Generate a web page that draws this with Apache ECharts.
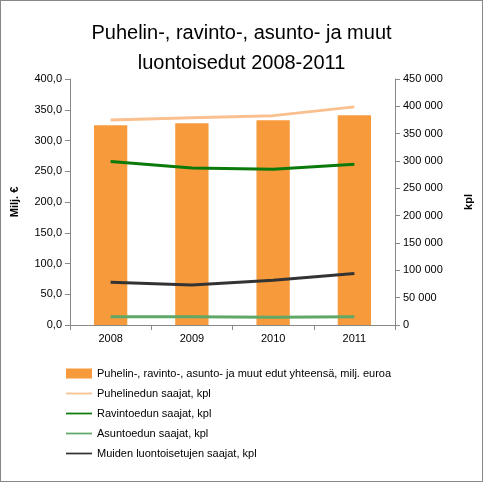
<!DOCTYPE html>
<html><head><meta charset="utf-8">
<script src="https://cdn.jsdelivr.net/npm/echarts@6/dist/echarts.min.js"></script>
<style>html,body{margin:0;padding:0;background:#fff}#c{width:483px;height:482px;box-sizing:border-box;border:1px solid #888}</style>
</head><body><div id="c"></div>
<script>
const categories = ['2008','2009','2010','2011'];
const edut = [325, 328, 333, 341];
const puhelin = [375000, 379000, 383000, 399000];
const ravinto = [299000, 287000, 285000, 294000];
const asunto = [15000, 15000, 14000, 15000];
const muut = [78000, 73000, 82000, 94000];
const names = ['Puhelin-, ravinto-, asunto- ja muut edut yhteensä, milj. euroa','Puhelinedun saajat, kpl','Ravintoedun saajat, kpl','Asuntoedun saajat, kpl','Muiden luontoisetujen saajat, kpl'];
const fmt = v => v.toFixed(1).replace('.', ',');
const fmtK = v => v === 0 ? '0' : String(v).replace(/\B(?=(\d{3})+(?!\d))/g, ' ');
const font = 'Liberation Sans, Arial, sans-serif';
const chart = echarts.init(document.getElementById('c'));
const line = (n, d, c) => ({name: n, type: 'line', yAxisIndex: 1, data: d, symbol: 'none', lineStyle: {color: c, width: 3}, itemStyle: {color: c}});
const lineIcon = 'path://M0,4L30,4L30,6L0,6Z';
chart.setOption({
  animation: false,
  textStyle: {fontFamily: font},
  title: {text: 'Puhelin-, ravinto-, asunto- ja muut\nluontoisedut 2008-2011', left: 'center', top: 12, textStyle: {fontSize: 20, fontWeight: 'normal', color: '#000', lineHeight: 30, fontFamily: font}},
  grid: {left: 68, right: 85, top: 78, bottom: 156},
  xAxis: {type: 'category', data: categories, axisTick: {show: true}, axisLine: {lineStyle: {color: '#888'}}, axisLabel: {color: '#000', fontSize: 11}},
  yAxis: [
    {type: 'value', min: 0, max: 400, interval: 50, name: 'Milj. €', nameLocation: 'middle', nameGap: 50, nameTextStyle: {fontWeight: 'bold', fontSize: 11, color: '#000'}, axisLine: {show: true, lineStyle: {color: '#888'}}, axisTick: {show: true}, splitLine: {show: false}, axisLabel: {formatter: fmt, color: '#000', fontSize: 11}},
    {type: 'value', min: 0, max: 450000, interval: 50000, name: 'kpl', nameLocation: 'middle', nameGap: 68, nameTextStyle: {fontWeight: 'bold', fontSize: 11, color: '#000'}, axisLine: {show: true, lineStyle: {color: '#888'}}, axisTick: {show: true}, splitLine: {show: false}, axisLabel: {formatter: fmtK, color: '#000', fontSize: 11}}
  ],
  legend: {orient: 'vertical', left: 60, top: 362, itemGap: 9, itemWidth: 26, itemHeight: 10, textStyle: {fontSize: 11, color: '#000'},
    data: [{name: names[0], icon: 'rect'}].concat(names.slice(1).map(n => ({name: n, icon: lineIcon})))},
  series: [
    {name: names[0], type: 'bar', data: edut, barWidth: '41%', itemStyle: {color: '#F79A3B'}},
    line(names[1], puhelin, '#FAC090'),
    line(names[2], ravinto, '#0B7A0B'),
    line(names[3], asunto, '#5FA868'),
    line(names[4], muut, '#333333')
  ]
});
</script></body></html>
